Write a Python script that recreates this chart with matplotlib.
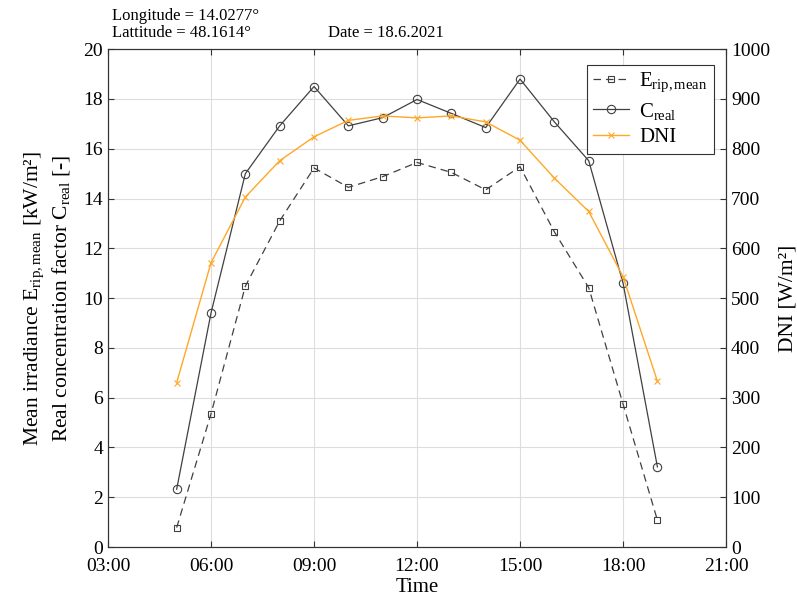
import numpy as np
import matplotlib.pyplot as plt

# hourly data, 05:00 .. 19:00
hours = [5, 6, 7, 8, 9, 10, 11, 12, 13, 14, 15, 16, 17, 18, 19]
e_rip_mean = [0.78, 5.35, 10.48, 13.1, 15.23, 14.45, 14.88, 15.45, 15.05, 14.35, 15.28, 12.66, 10.42, 5.74, 1.08]
c_real = [2.32, 9.4, 15.0, 16.92, 18.5, 16.92, 17.25, 17.98, 17.42, 16.85, 18.8, 17.08, 15.52, 10.6, 3.22]
dni = [330, 571, 703, 776, 824, 857, 866, 862, 866, 854, 817, 741, 674, 543, 333]

x_ticks = [3, 6, 9, 12, 15, 18, 21]
x_ticklabels = ["03:00", "06:00", "09:00", "12:00", "15:00", "18:00", "21:00"]

plt.rcParams.update({
    "font.family": "serif",
    "font.serif": ["Liberation Serif", "DejaVu Serif"],
    "mathtext.fontset": "custom",
    "mathtext.rm": "Liberation Serif",
    "mathtext.it": "Liberation Serif:italic",
    "font.size": 14,
})

fig = plt.figure(figsize=(7.97, 6.0), dpi=100)
ax = fig.add_axes([0.1355, 0.0883, 0.7755, 0.8297])
ax2 = ax.twinx()

dark = "#404040"
orange = "#FFA726"

l1, = ax.plot(hours, e_rip_mean, color=dark, lw=0.9, ls=(0, (6, 4)), marker="s",
              ms=4.5, mfc="none", mew=0.8, label=r"$\mathrm{E}_{\mathrm{rip,mean}}$")
l2, = ax.plot(hours, c_real, color=dark, lw=0.9, marker="o", ms=6, mfc="none",
              mew=0.8, label=r"$\mathrm{C}_{\mathrm{real}}$")
l3, = ax2.plot(hours, dni, color=orange, lw=1.0, marker="x", ms=4, mew=0.8, label="DNI")

ax.set_xlim(3, 21)
ax.set_ylim(0, 20)
ax.set_yticks(np.arange(0, 21, 2))
ax.set_xticks(x_ticks)
ax.set_xticklabels(x_ticklabels)
ax2.set_ylim(0, 1000)
ax2.set_yticks(np.arange(0, 1001, 100))

ax.grid(True, color="#dddddd", lw=0.8)
ax.set_axisbelow(True)
for a in (ax, ax2):
    a.tick_params(direction="in", length=4, color="#333333", labelsize=14)
    for s in a.spines.values():
        s.set_color("#333333")
ax.tick_params(top=True)
ax.tick_params(axis="x", pad=8)

ax.set_xlabel("Time", fontsize=15, labelpad=2)
ax.set_ylabel("Mean irradiance $\\mathrm{E}_{\\mathrm{rip,mean}}$ [kW/m²]\n"
              "Real concentration factor $\\mathrm{C}_{\\mathrm{real}}$ [-]",
              fontsize=15.5, linespacing=1.25, labelpad=8)
ax2.set_ylabel("DNI [W/m²]", fontsize=15.5, labelpad=6)

leg = ax.legend(handles=[l1, l2, l3], loc="upper right", fontsize=15,
                fancybox=False, edgecolor="#333333", framealpha=1,
                handlelength=1.7, handletextpad=0.5, borderpad=0.3,
                labelspacing=0.3, bbox_to_anchor=(0.997, 0.99))
leg.get_frame().set_linewidth(0.8)

fig.text(112 / 797, 1 - 16 / 600, "Longitude = 14.0277°", fontsize=12, va="center")
fig.text(112 / 797, 1 - 33 / 600, "Lattitude = 48.1614°", fontsize=12, va="center")
fig.text(328 / 797, 1 - 33 / 600, "Date = 18.6.2021", fontsize=12, va="center")

fig.savefig("out.png", dpi=100)
